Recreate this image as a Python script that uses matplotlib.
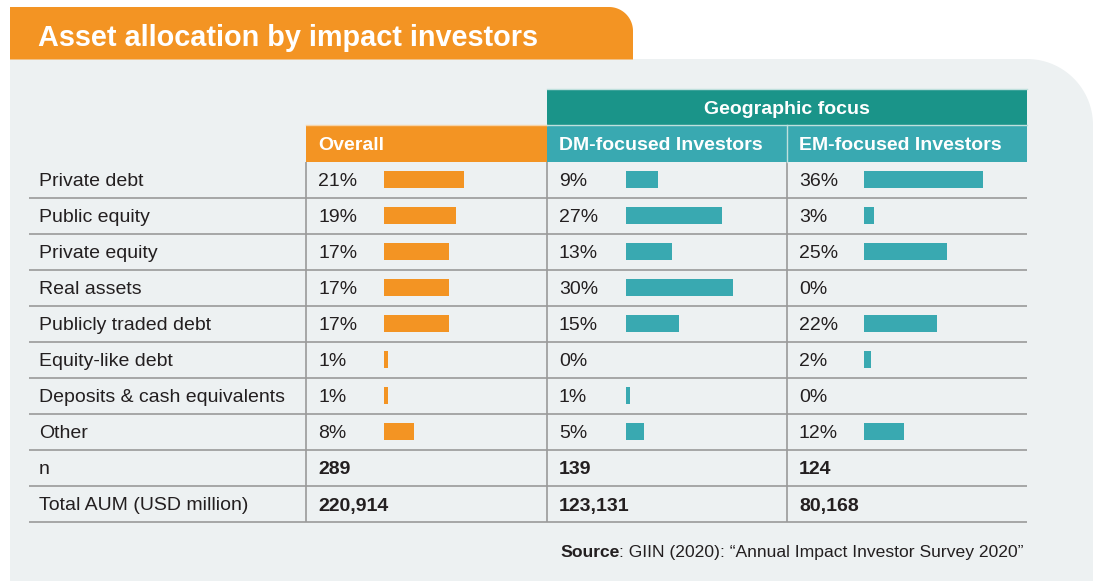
import numpy as np
import matplotlib
matplotlib.use("Agg")
import matplotlib.pyplot as plt
from matplotlib.patches import Rectangle, PathPatch
from matplotlib.path import Path

# ---------------- data ----------------
categories = ["Private debt", "Public equity", "Private equity", "Real assets",
              "Publicly traded debt", "Equity-like debt",
              "Deposits & cash equivalents", "Other"]
overall = [21, 19, 17, 17, 17, 1, 1, 8]
dm_focused = [9, 27, 13, 30, 15, 0, 1, 5]
em_focused = [36, 3, 25, 0, 22, 2, 0, 12]
column_titles = ["Overall", "DM-focused Investors", "EM-focused Investors"]
group_title = "Geographic focus"
n_values = ["289", "139", "124"]
aum_values = ["220,914", "123,131", "80,168"]
extra_rows = ["n", "Total AUM (USD million)"]
title = "Asset allocation by impact investors"

# ---------------- style ----------------
ORANGE = "#F39423"
TEAL_DARK = "#1A9489"
TEAL = "#39A9B1"
PANEL = "#EDF1F2"
GRID = "#9A9A9A"
TXT = "#231F20"
FONT = ["Liberation Sans", "DejaVu Sans"]
FS = 14
FS_HEAD = 14
FS_SRC = 12.6

W, H = 1098, 581
fig = plt.figure(figsize=(W / 100, H / 100), dpi=100)
ax = fig.add_axes([0, 0, 1, 1])
ax.set_xlim(0, W)
ax.set_ylim(H, 0)
ax.axis("off")
fig.patch.set_facecolor("white")


def rounded_tr(x0, y0, x1, y1, r):
    """rectangle with rounded top-right corner (y grows downward)"""
    t = np.linspace(0, np.pi / 2, 30)
    cx, cy = x1 - r, y0 + r
    arc = np.column_stack([cx + r * np.sin(t), cy - r * np.cos(t)])
    verts = [(x0, y1), (x0, y0), (x1 - r, y0)] + [tuple(p) for p in arc] + [(x1, y1), (x0, y1)]
    codes = [Path.MOVETO] + [Path.LINETO] * (len(verts) - 2) + [Path.CLOSEPOLY]
    return Path(verts, codes)


# panel and title tab
ax.add_patch(PathPatch(rounded_tr(10, 59, 1093, 581, 66), facecolor=PANEL, edgecolor="none", zorder=0))
ax.add_patch(PathPatch(rounded_tr(10, 7, 633, 59.5, 24), facecolor=ORANGE, edgecolor="none", zorder=1))
ax.text(38, 35, title, color="white", fontsize=20.8, fontweight="bold", family=FONT,
        va="center_baseline", ha="left", zorder=3)

# table geometry
col_edges = [306, 547, 787, 1027]
left_x = 29
row_top = 162
row_h = 36
n_rows = len(categories) + 2

# headers
ax.add_patch(Rectangle((547, 89), 480, 36, facecolor=TEAL_DARK, edgecolor="none", zorder=2))
ax.plot([547, 1027], [89, 89], color="#BFE0DD", lw=1, zorder=3)
ax.text(787, 108, group_title, color="white", fontsize=FS_HEAD, fontweight="bold",
        family=FONT, ha="center", va="center_baseline", zorder=3)
head_colors = [ORANGE, TEAL, TEAL]
for i, name in enumerate(column_titles):
    x0, x1 = col_edges[i], col_edges[i + 1]
    ax.add_patch(Rectangle((x0, 125), x1 - x0, 36.5, facecolor=head_colors[i],
                           edgecolor="none", zorder=2))
    ax.text(x0 + 12, 144, name, color="white", fontsize=FS_HEAD, fontweight="bold",
            family=FONT, ha="left", va="center_baseline", zorder=3)
ax.plot([306, 547], [125, 125], color="#F6D3A8", lw=1, zorder=3)
ax.plot([547, 1027], [125, 125], color="#BFE0DD", lw=1, zorder=3)
ax.plot([787, 787], [125, 161.5], color="#BFE0DD", lw=1, zorder=3)

# grid lines
for k in range(1, n_rows + 1):
    y = row_top + k * row_h
    ax.plot([left_x, 1027], [y, y], color=GRID, lw=1.2, zorder=2, solid_capstyle="butt")
for x in col_edges[:3]:
    ax.plot([x, x], [161.5, row_top + n_rows * row_h], color=GRID, lw=1.2, zorder=2,
            solid_capstyle="butt")

# category labels and values
series = [overall, dm_focused, em_focused]
bar_start = [384, 626, 864]
bar_scale = [3.8, 3.55, 3.3]
bar_colors = [ORANGE, TEAL, TEAL]
centers = [row_top + (i + 0.5) * row_h for i in range(n_rows)]

for i, cat in enumerate(categories + extra_rows):
    ax.text(39, centers[i], cat, color=TXT, fontsize=FS, family=FONT,
            ha="left", va="center_baseline", zorder=3)

for j, vals in enumerate(series):
    ys = centers[:len(vals)]
    ax.barh([y - 1 for y in ys], [v * bar_scale[j] for v in vals], left=bar_start[j],
            height=17, color=bar_colors[j], zorder=3)
    for y, v in zip(ys, vals):
        ax.text(col_edges[j] + 12, y, f"{v}%", color=TXT, fontsize=FS, family=FONT,
                ha="left", va="center_baseline", zorder=3)
    ax.text(col_edges[j] + 12, centers[len(vals)], n_values[j], color=TXT, fontsize=FS,
            fontweight="bold", family=FONT, ha="left", va="center_baseline", zorder=3)
    ax.text(col_edges[j] + 12, centers[len(vals) + 1], aum_values[j], color=TXT,
            fontsize=FS, fontweight="bold", family=FONT, ha="left", va="center_baseline",
            zorder=3)

# source
src = ax.text(560, 551, "Source", color=TXT, fontsize=FS_SRC, fontweight="bold",
              family=FONT, ha="left", va="center_baseline", zorder=3)
fig.canvas.draw()
bb = src.get_window_extent()
x_after = ax.transData.inverted().transform((bb.x1, 0))[0]
ax.text(x_after, 551, ": GIIN (2020): \u201cAnnual Impact Investor Survey 2020\u201d", color=TXT,
        fontsize=FS_SRC, family=FONT, ha="left", va="center_baseline", zorder=3)

fig.savefig("out.png", dpi=100, facecolor="white")
